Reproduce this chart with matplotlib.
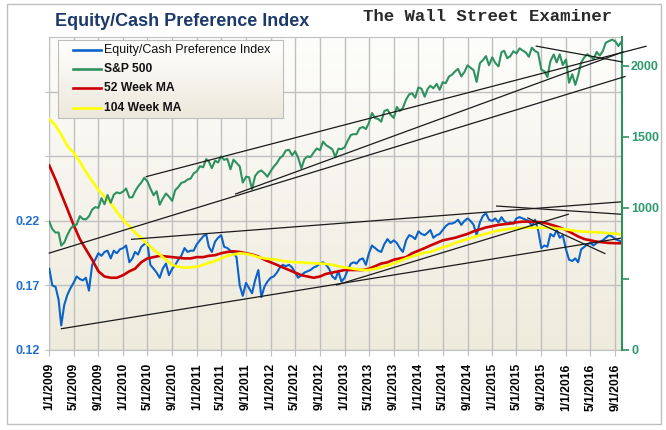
import numpy as np
import pandas as pd
import matplotlib
matplotlib.use("Agg")
import matplotlib.pyplot as plt
from matplotlib.lines import Line2D
from matplotlib.patches import Rectangle

plt.rcParams['font.family'] = ['Liberation Sans', 'DejaVu Sans']

# ---------------- data ----------------
# semi-monthly observations: 1st and 16th of each month, Jan 2009 .. Oct 1 2016
half_month_dates = [pd.Timestamp(y, m, d) for y in range(2009, 2017) for m in range(1, 13)
                    for d in (1, 16) if pd.Timestamp(y, m, d) <= pd.Timestamp(2016, 10, 1)]

ecpi = [0.183, 0.170, 0.169, 0.159, 0.139, 0.155, 0.163, 0.168, 0.172, 0.177,
        0.175, 0.174, 0.176, 0.166, 0.186, 0.190, 0.195, 0.193, 0.196, 0.197,
        0.191, 0.197, 0.195, 0.198, 0.199, 0.201, 0.188, 0.191, 0.196, 0.194,
        0.200, 0.202, 0.203, 0.186, 0.183, 0.180, 0.176, 0.183, 0.187, 0.178,
        0.183, 0.186, 0.190, 0.193, 0.199, 0.196, 0.197, 0.197, 0.202, 0.205,
        0.208, 0.210, 0.200, 0.196, 0.204, 0.207, 0.209, 0.200, 0.199, 0.197,
        0.195, 0.192, 0.170, 0.162, 0.172, 0.168, 0.164, 0.174, 0.182, 0.161,
        0.169, 0.173, 0.176, 0.177, 0.180, 0.184, 0.186, 0.185, 0.186, 0.184,
        0.180, 0.176, 0.178, 0.180, 0.181, 0.182, 0.184, 0.185, 0.187, 0.188,
        0.186, 0.183, 0.177, 0.175, 0.181, 0.173, 0.176, 0.182, 0.187, 0.188,
        0.187, 0.190, 0.191, 0.186, 0.195, 0.201, 0.199, 0.197, 0.196, 0.202,
        0.206, 0.203, 0.205, 0.203, 0.199, 0.196, 0.205, 0.209, 0.208, 0.206,
        0.212, 0.210, 0.209, 0.211, 0.213, 0.207, 0.209, 0.210, 0.213, 0.216,
        0.218, 0.218, 0.219, 0.221, 0.217, 0.220, 0.222, 0.220, 0.217, 0.209,
        0.219, 0.224, 0.226, 0.221, 0.220, 0.222, 0.219, 0.223, 0.220, 0.218,
        0.219, 0.218, 0.222, 0.223, 0.222, 0.221, 0.220, 0.216, 0.221, 0.213,
        0.199, 0.201, 0.200, 0.210, 0.208, 0.213, 0.207, 0.209, 0.198, 0.190,
        0.189, 0.191, 0.188, 0.198, 0.200, 0.202, 0.203, 0.201, 0.203, 0.204,
        0.205, 0.207, 0.209, 0.208, 0.206, 0.205, 0.204]

spx = [903, 850, 826, 827, 735, 756, 811, 852, 877, 882, 942, 921, 919, 940, 987, 1005,
       1000, 1068, 1025, 1090, 1036, 1093, 1109, 1102,
       1115, 1136, 1073, 1075, 1115, 1150, 1178, 1212, 1187, 1136, 1089, 1117, 1022, 1064,
       1101, 1079, 1049, 1125, 1146, 1176, 1183, 1199, 1206, 1242,
       1258, 1293, 1286, 1343, 1327, 1279, 1332, 1319, 1363, 1338, 1345, 1271, 1339, 1316,
       1292, 1178, 1219, 1216, 1131, 1224, 1253, 1263, 1244, 1219,
       1258, 1289, 1316, 1351, 1366, 1404, 1408, 1370, 1398, 1353, 1278, 1343, 1362, 1357,
       1390, 1418, 1406, 1466, 1441, 1428, 1412, 1359, 1416, 1413,
       1426, 1472, 1513, 1519, 1518, 1560, 1569, 1555, 1597, 1667, 1631, 1626, 1606, 1681,
       1691, 1655, 1633, 1710, 1682, 1703, 1762, 1798, 1806, 1775,
       1848, 1838, 1782, 1838, 1859, 1841, 1872, 1830, 1884, 1877, 1924, 1937, 1960, 1978,
       1925, 1955, 2003, 1985, 1968, 1886, 2018, 2039, 2068, 2003,
       2059, 2020, 1995, 2096, 2105, 2053, 2068, 2102, 2086, 2122, 2107, 2094, 2063, 2127,
       2104, 2091, 1972, 1961, 1920, 2033, 2079, 2023, 2080, 2005,
       2044, 1880, 1940, 1865, 1932, 2022, 2060, 2081, 2065, 2047, 2097, 2071, 2103, 2162,
       2173, 2184, 2171, 2139, 2168]

# monthly moving averages, Jan 2009 .. Oct 2016
month_dates = pd.date_range('2009-01-01', '2016-10-01', freq='MS')
ma52 = [0.263, 0.252, 0.241, 0.229, 0.217, 0.206, 0.198, 0.190, 0.181, 0.177,
        0.176, 0.176, 0.178, 0.181, 0.183, 0.188, 0.191, 0.192, 0.193, 0.1925,
        0.192, 0.1915, 0.191, 0.191, 0.192, 0.192, 0.193, 0.1935, 0.195, 0.196,
        0.1965, 0.196, 0.195, 0.194, 0.1925, 0.190, 0.188, 0.186, 0.184, 0.182,
        0.180, 0.178, 0.177, 0.176, 0.177, 0.179, 0.180, 0.181, 0.182, 0.182,
        0.182, 0.182, 0.183, 0.185, 0.187, 0.188, 0.190, 0.191, 0.192, 0.195,
        0.197, 0.199, 0.201, 0.203, 0.205, 0.206, 0.207, 0.2085, 0.210, 0.212,
        0.2135, 0.215, 0.216, 0.217, 0.2175, 0.218, 0.219, 0.2195, 0.2195, 0.2193,
        0.219, 0.218, 0.2165, 0.215, 0.213, 0.2105, 0.208, 0.206, 0.205, 0.204,
        0.2035, 0.203, 0.2028, 0.2027]
ma104 = [0.299, 0.294, 0.287, 0.278, 0.273, 0.266, 0.258, 0.251, 0.244, 0.239,
         0.234, 0.227, 0.221, 0.216, 0.211, 0.207, 0.202, 0.198, 0.194, 0.190,
         0.186, 0.1845, 0.1838, 0.184, 0.1846, 0.186, 0.1875, 0.189, 0.191, 0.193,
         0.194, 0.195, 0.1945, 0.1935, 0.192, 0.191, 0.1905, 0.190, 0.189, 0.1885,
         0.188, 0.188, 0.1875, 0.1872, 0.187, 0.1868, 0.186, 0.185, 0.184, 0.1833,
         0.1826, 0.182, 0.182, 0.183, 0.184, 0.1855, 0.187, 0.189, 0.191, 0.1925,
         0.194, 0.1955, 0.196, 0.198, 0.1995, 0.201, 0.203, 0.2045, 0.206, 0.2075,
         0.209, 0.210, 0.2115, 0.2125, 0.2133, 0.214, 0.2145, 0.2147, 0.2148, 0.2148,
         0.2148, 0.2148, 0.2145, 0.214, 0.2135, 0.2128, 0.212, 0.2117, 0.2115, 0.2112,
         0.211, 0.2105, 0.2102, 0.2097]

# hand-drawn trend lines (start date, value) -> (end date, value)
trend_spx = [(('2010-04-26', 1220), ('2017-01-31', 2137)),
             (('2009-01-01', 682), ('2016-10-19', 1924)),
             (('2011-07-12', 1098), ('2016-10-09', 2097)),
             (('2015-08-07', 2138), ('2016-10-04', 2027))]
trend_ecpi = [(('2009-03-02', 0.1365), ('2016-10-04', 0.2068)),
              (('2010-02-12', 0.2058), ('2016-10-04', 0.2349)),
              (('2015-01-23', 0.2316), ('2016-10-04', 0.2252)),
              (('2012-11-22', 0.1704), ('2016-01-12', 0.2252)),
              (('2015-06-26', 0.2223), ('2016-07-11', 0.1948))]

tick_dates = pd.date_range('2009-01-01', '2016-09-01', freq='4MS')
tick_labels = [f"{d.month}/{d.day}/{d.year}" for d in tick_dates]
left_ticks = [0.12, 0.17, 0.22, 0.27, 0.32]
left_labels = ['0.12', '0.17', '0.22', '', '']
right_ticks = [0, 500, 1000, 1500, 2000]
right_labels = ['0', '', '1000', '1500', '2000']

# ---------------- styling ----------------
C_BLUE = '#0B63C9'
C_GREEN = '#2E9160'
C_RED = '#CC0000'
C_YELLOW = '#FFFF00'
C_GRID = '#C0C0C0'

W, H = 666, 430
fig = plt.figure(figsize=(W / 100, H / 100), dpi=100)
fig.patch.set_facecolor('white')

L, R, T, B = 49.3, 622.0, 37.3, 350.0
pos = [L / W, 1 - B / H, (R - L) / W, (B - T) / H]


def gradient(top_rgb, bot_rgb, n=256):
    g = np.linspace(0, 1, n)[:, None, None]
    top = np.array(top_rgb)[None, None, :] / 255
    bot = np.array(bot_rgb)[None, None, :] / 255
    return top * (1 - g) + bot * g


bg = fig.add_axes(pos, zorder=0)
bg.imshow(gradient((253, 253, 251), (238, 234, 220)), aspect='auto', extent=[0, 1, 0, 1])
bg.axis('off')

ax = fig.add_axes(pos, zorder=1)
ax.patch.set_alpha(0)
ax.set_axisbelow(True)

ax.plot(half_month_dates, ecpi, color=C_BLUE, lw=1.5, zorder=3)
ax.plot(month_dates, ma52, color=C_RED, lw=1.9, zorder=4)
ax.plot(month_dates, ma104, color=C_YELLOW, lw=1.9, zorder=5)
for (d0, v0), (d1, v1) in trend_ecpi:
    ax.plot([pd.Timestamp(d0), pd.Timestamp(d1)], [v0, v1], color='#1a1a1a', lw=0.9,
            zorder=6, clip_on=False)

ax.set_xlim(pd.Timestamp('2009-01-01'), pd.Timestamp('2016-10-04'))
ax.set_ylim(0.12, 0.12 + (B - T) * 0.05 / 64.5)
ax.set_xticks(tick_dates)
ax.set_xticklabels(tick_labels, rotation=90, fontsize=8.7, fontweight='bold', color='black')
ax.set_yticks(left_ticks)
ax.set_yticklabels(left_labels, fontsize=9, fontweight='bold', color='#1F6FD1')
ax.tick_params(axis='x', length=4, color=C_GRID, pad=5.5)
ax.tick_params(axis='y', length=3, color=C_GRID, pad=4)
ax.grid(True, color=C_GRID, lw=1)
for s in ('left', 'bottom', 'top'):
    ax.spines[s].set_color(C_GRID)
ax.spines['right'].set_visible(False)

ax2 = ax.twinx()
ax2.plot(half_month_dates, spx, color=C_GREEN, lw=1.5, zorder=3)
for (d0, v0), (d1, v1) in trend_spx:
    ax2.plot([pd.Timestamp(d0), pd.Timestamp(d1)], [v0, v1], color='#1a1a1a', lw=0.9,
             zorder=6, clip_on=False)
ax2.set_ylim(0, 2200)
ax2.set_xlim(ax.get_xlim())
ax2.set_yticks(right_ticks)
ax2.set_yticklabels(right_labels, fontsize=9, fontweight='bold', color='#2E9A6E')
ax2.tick_params(axis='y', length=5, color=C_GREEN, width=1.2, pad=1.5)
for s in ('left', 'bottom', 'top'):
    ax2.spines[s].set_visible(False)
ax2.spines['right'].set_color(C_GREEN)
ax2.spines['right'].set_linewidth(1.5)

# ---------------- titles ----------------
fig.text(55 / W, 1 - 22 / H, 'Equity/Cash Preference Index', fontsize=13, fontweight='bold',
         color='#1B3A6B', ha='left', va='center')
fig.text(363 / W, 1 - 16.5 / H, 'The Wall Street Examiner', family='Liberation Mono',
         fontweight='bold', fontsize=12.5, color='#2a2a2a', ha='left', va='center')

# ---------------- legend ----------------
lg = fig.add_axes([58 / W, 1 - 118 / H, 225 / W, 78 / H], zorder=10)
lg.imshow(gradient((255, 255, 255), (236, 232, 219)), aspect='auto', extent=[0, 225, 78, 0])
lg.set_xlim(0, 225)
lg.set_ylim(78, 0)
lg.set_xticks([])
lg.set_yticks([])
for s in lg.spines.values():
    s.set_color('#BDBDBD')
entries = [('Equity/Cash Preference Index', C_BLUE, 'normal', 9.0),
           ('S&P 500', C_GREEN, 'bold', 8.7),
           ('52 Week MA', C_RED, 'bold', 8.7),
           ('104 Week MA', C_YELLOW, 'bold', 8.7)]
rows = [10, 29, 48.3, 67.7]
for (lab, col, wt, fs), yy in zip(entries, rows):
    lg.add_line(Line2D([15, 43], [yy, yy], color=col, lw=1.9))
    lg.text(46, yy, lab, fontsize=fs, fontweight=wt, color='#111111', va='center', ha='left')

# outer border
fig.add_artist(Rectangle((6.5 / W, 1 - 423.5 / H), (661 - 6.5) / W, (423.5 - 3.5) / H,
                         transform=fig.transFigure, fill=False, ec='#BFBFBF', lw=1))

fig.savefig('out.png', dpi=100)
